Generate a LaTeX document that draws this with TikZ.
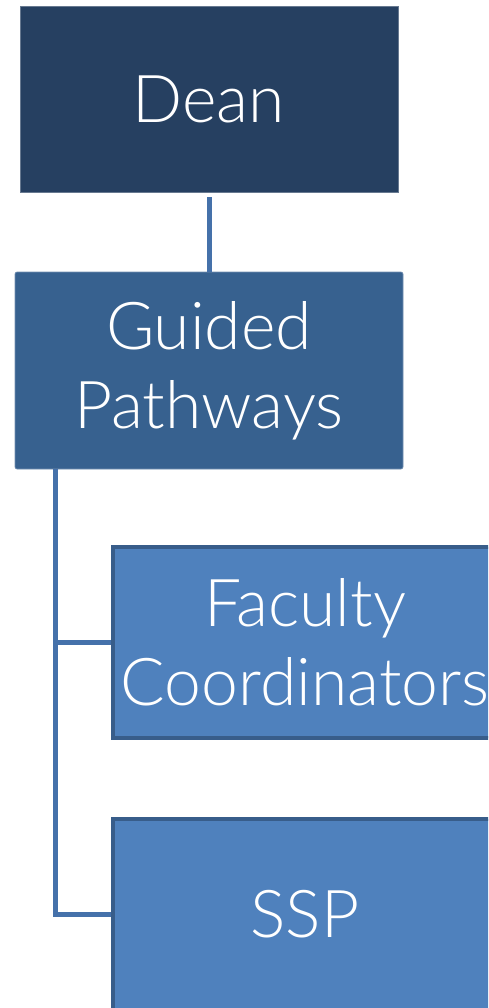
\documentclass[tikz,border=0pt]{standalone}
\usepackage{fontspec}
\setmainfont{Lato}[UprightFont={* Light}]
\definecolor{deanfill}{HTML}{264061}
\definecolor{gpfill}{HTML}{37618F}
\definecolor{subfill}{HTML}{4F81BD}
\definecolor{subborder}{HTML}{385D8A}
\definecolor{linkc}{HTML}{4571AA}
\tikzset{
  box/.style={inner sep=0pt, text=white, align=center,
    font=\fontsize{66}{79}\selectfont},
  toplevel/.style={box, fill=deanfill, draw=deanfill!70!white, line width=0.6pt},
  midlevel/.style={box, fill=gpfill, draw=gpfill!70!white, line width=0.6pt, rounded corners=2pt},
  sublevel/.style={box, fill=subfill, draw=subborder, line width=4pt},
  link/.style={draw=linkc, line width=5pt}
}
\begin{document}
\begin{tikzpicture}[x=1pt,y=-1pt]
\useasboundingbox (0,0) rectangle (488,1008);
\clip (0,0) rectangle (488,1008);
\coordinate (trunk) at (55.5,469);
\node[toplevel, minimum width=378pt, minimum height=186pt] (dean) at (209,99) {Dean};
\node[midlevel, minimum width=388pt, minimum height=197pt] (gp) at (209,370.5) {Guided\\Pathways};
\node[sublevel, minimum width=384pt, minimum height=191pt] (fc) at (305,642.5) {Faculty\\Coordinators};
\node[sublevel, minimum width=384pt, minimum height=191pt] (ssp) at (305,914.5) {SSP};
\draw[link, shorten <=5pt] (dean.south) -- (gp.north);
\draw[link] (trunk) |- (ssp.west);
\draw[link] (trunk |- fc.west) -- (fc.west);
\end{tikzpicture}
\end{document}
